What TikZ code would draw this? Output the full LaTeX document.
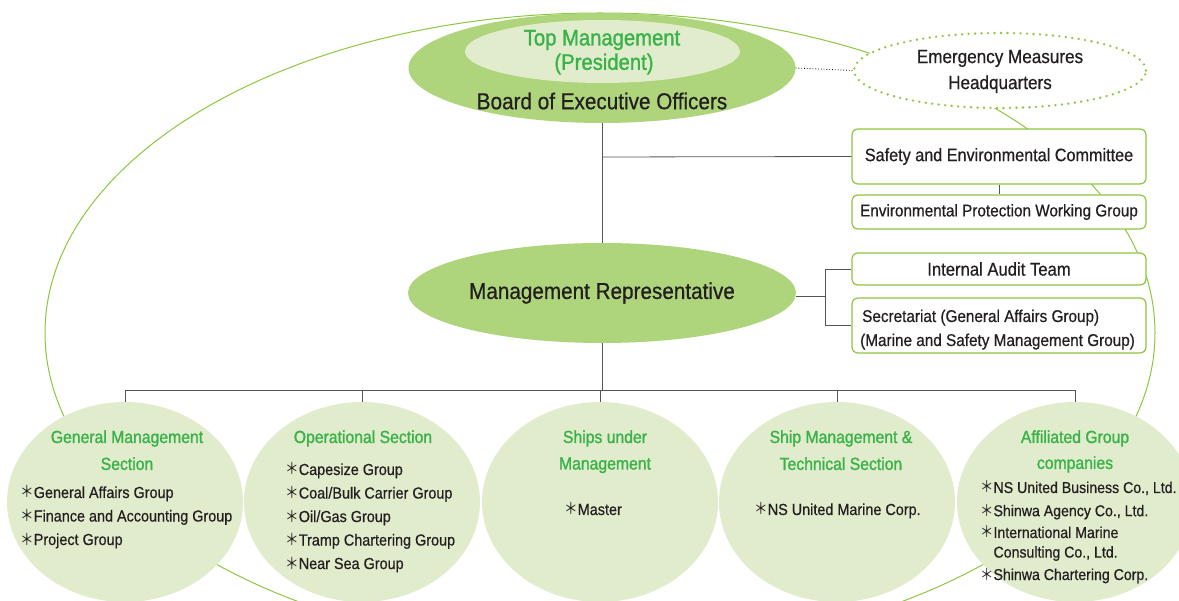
\documentclass[tikz,border=0pt]{standalone}
\usepackage{fontspec}
\setmainfont{Liberation Sans}[FakeStretch=0.9,FakeBold=0.6]
\newfontfamily\gfont{Liberation Sans}[FakeStretch=0.9,FakeBold=1.3]
\newfontfamily\cjk{Noto Sans CJK JP}[FakeStretch=0.85]
\usetikzlibrary{shapes.geometric}
\definecolor{gtext}{RGB}{58,178,74}
\definecolor{gline}{RGB}{141,198,63}
\definecolor{gdark}{RGB}{174,212,124}
\definecolor{glight}{RGB}{224,236,204}
\definecolor{conn}{RGB}{85,85,85}
\definecolor{ink}{RGB}{35,31,32}
\newcommand{\astk}{{\cjk ＊}}
\newcommand{\fs}[1]{\fontsize{#1}{#1}\selectfont}
\tikzset{
  big/.style={ellipse,fill=gdark,inner sep=0pt},
  light/.style={ellipse,fill=glight,inner sep=0pt},
  sec/.style={ellipse,fill=glight,inner sep=0pt,minimum width=236pt,minimum height=200pt},
  gbox/.style={draw=gline,line width=1.2pt,rounded corners=6pt,fill=white,minimum width=294pt,inner sep=0pt,text=ink},
  conline/.style={draw=conn,line width=0.8pt},
  ttl/.style={text=gtext,align=center,inner sep=0pt},
  lst/.style={anchor=base west,inner sep=0pt,text=ink},
  txt/.style={inner sep=0pt,text=ink,align=center},
}
\begin{document}
\begin{tikzpicture}[x=1pt,y=-1pt]
\useasboundingbox (0,0) rectangle (1179,601);
\clip (0,0) rectangle (1179,601);
% big surrounding ellipse
\draw[gline,line width=1pt] (600,333) ellipse [x radius=555pt, y radius=320pt];
% top management
\node[big,minimum width=387pt,minimum height=110pt] (top) at (602,68) {};
\node[light,minimum width=275pt,minimum height=63pt] (pres) at (602.5,51.5) {};
\node[ttl,font=\gfont\fs{22.5}] (toptxt) at (602,40) {Top Management};
\node[ttl,font=\gfont\fs{22.5}] (prestxt) at (604,64) {(President)};
\node[txt,font=\fs{23}] (board) at (602,101) {Board of Executive Officers};
% emergency
\node[ellipse,draw=gline,fill=white,line width=2.6pt,dash pattern=on 0pt off 6.5pt,line cap=round,minimum width=292pt,minimum height=75pt,inner sep=0pt] (emer) at (1000,70.5) {};
\node[txt,font=\fs{19}] (emtxt) at (1000,71.5) {Emergency Measures\\[7pt]Headquarters};
\draw[black,line width=0.8pt,dotted] (top.east) -- (emer.west);
% management representative
\node[big,minimum width=388pt,minimum height=100pt,font=\fs{23},text=ink] (mgr) at (602,293) {Management Representative};
% right boxes
\node[gbox,minimum height=55pt,font=\fs{18}] (safety) at (999,156.5) {Safety and Environmental Committee};
\node[gbox,minimum height=34pt,font=\fs{17}] (env) at (999,212) {Environmental Protection Working Group};
\node[gbox,minimum height=32pt,font=\fs{18.5}] (audit) at (999,269) {Internal Audit Team};
\node[gbox,minimum height=55pt] (secr) at (999,325.5) {};
\node[lst,font=\fs{17}] (sec1) at (862,322) {Secretariat (General Affairs Group)};
\node[lst,font=\fs{17}] (sec2) at (860,346) {(Marine and Safety Management Group)};
% connectors top
\coordinate (j1) at (602,157);
\draw[conline] (top.south) -- (mgr.north);
\draw[conline] (j1) -- (safety.west);
\draw[conline] (safety.south) -- (env.north);
\coordinate (br) at (825,296);
\draw[conline] (mgr.east |- br) -- (br);
\draw[conline] (br |- audit.west) -- (audit.west);
\draw[conline] (br |- secr.west) -- (secr.west);
\draw[conline] (br |- audit.west) -- (br |- secr.west);
% sections
\node[sec] (c1) at (125,502) {};
\node[sec] (c2) at (362,502) {};
\node[sec] (c3) at (600,502) {};
\node[sec] (c4) at (837,502) {};
\node[sec] (c5) at (1075,502) {};
\coordinate (bus) at (602,390);
\draw[conline] (mgr.south) -- (bus);
\draw[conline] (c1.north) -- (c1.north |- bus) -- (c5.north |- bus) -- (c5.north);
\draw[conline] (c2.north) -- (c2.north |- bus);
\draw[conline] (c3.north) -- (c3.north |- bus);
\draw[conline] (c4.north) -- (c4.north |- bus);
% section texts
\node[ttl,font=\gfont\fs{17.5},anchor=base] (t1) at (127,443) {\begin{tabular}[t]{@{}c@{}}General Management\\[9pt]Section\end{tabular}};
\node[lst,font=\fs{16}] (l1) at (20,498) {\begin{tabular}[t]{@{}l@{}}\astk General Affairs Group\\[6.5pt]\astk Finance and Accounting Group\\[6.5pt]\astk Project Group\end{tabular}};
\node[ttl,font=\gfont\fs{17.5},anchor=base] (t2) at (363,443) {Operational Section};
\node[lst,font=\fs{16}] (l2) at (285,475) {\begin{tabular}[t]{@{}l@{}}\astk Capesize Group\\[6.5pt]\astk Coal/Bulk Carrier Group\\[6.5pt]\astk Oil/Gas Group\\[6.5pt]\astk Tramp Chartering Group\\[6.5pt]\astk Near Sea Group\end{tabular}};
\node[ttl,font=\gfont\fs{17.5},anchor=base] (t3) at (605,443) {\begin{tabular}[t]{@{}c@{}}Ships under\\[9pt]Management\end{tabular}};
\node[lst,font=\fs{16}] (l3) at (564,515) {\astk Master};
\node[ttl,font=\gfont\fs{17.5},anchor=base] (t4) at (841,443) {\begin{tabular}[t]{@{}c@{}}Ship Management \&\\[9pt]Technical Section\end{tabular}};
\node[lst,font=\fs{16}] (l4) at (754,515) {\astk NS United Marine Corp.};
\node[ttl,font=\gfont\fs{17.5},anchor=base] (t5) at (1075,443) {\begin{tabular}[t]{@{}c@{}}Affiliated Group\\[8pt]companies\end{tabular}};
\node[lst,font=\fs{15.7}] (l5a) at (980,493) {\begin{tabular}[t]{@{}l@{}}\astk NS United Business Co., Ltd.\\[6.5pt]\astk Shinwa Agency Co., Ltd.\end{tabular}};
\node[lst,font=\fs{15.7}] (l5b) at (980,538) {\begin{tabular}[t]{@{}l@{}}\astk International Marine\\[3.5pt]\hphantom{\astk}Consulting Co., Ltd.\end{tabular}};
\node[lst,font=\fs{15.7}] (l5c) at (980,580) {\astk Shinwa Chartering Corp.};
\end{tikzpicture}
\end{document}
